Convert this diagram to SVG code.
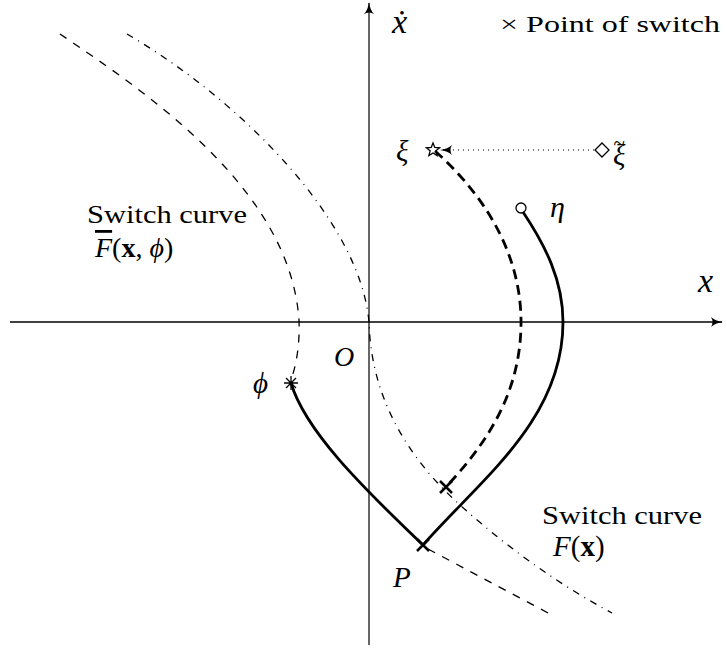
<svg xmlns="http://www.w3.org/2000/svg" width="727" height="648" viewBox="0 0 727 648">
<style>
.it{font-style:italic}
.thin{fill:none;stroke:#000;stroke-width:1.3}
.dash{stroke-dasharray:8 8}
.dashdot{stroke-dasharray:7 6 1 6}
.thick{fill:none;stroke:#000;stroke-width:2.8}
.tdash{stroke-dasharray:10 6}
.mk{fill:none;stroke:#000;stroke-width:1.3}
</style>
<defs>
<marker id="ah" viewBox="0 0 12 10" refX="11" refY="5" markerWidth="12" markerHeight="10" markerUnits="userSpaceOnUse" orient="auto">
<path d="M0,0 Q4,4 12,5 Q4,6 0,10 Q3,5 0,0Z" fill="#000"/>
</marker>
</defs>
<rect width="727" height="648" fill="#fff"/>
<g id="axes">
<line x1="10" y1="322" x2="722" y2="322" stroke="#000" stroke-width="1.3" marker-end="url(#ah)"/>
<line x1="369" y1="645" x2="369" y2="3" stroke="#000" stroke-width="1.2" marker-end="url(#ah)"/>
</g>
<g id="connectors">
<path class="thin dash" d="M60,34 C150,95 290,190 299,320 C300,345 296,368 290,382"/>
<path class="thin dash" d="M428,549 L550,614"/>
<path class="thin dashdot" d="M127,34 C240,100 360,220 369,322 C371,400 410,460 460,505 C510,550 560,585 612,613"/>
<path class="thick tdash" d="M435,151 C490,200 522,260 521,325 C520,400 480,450 446,487"/>
<path class="thick" d="M523,212 C545,245 563,280 563,322 C563,420 480,480 423,545"/>
<path class="thick" d="M291,383 C305,430 360,485 423,545"/>
<line x1="594" y1="150" x2="441" y2="150" stroke="#000" stroke-width="1" stroke-dasharray="1 4" marker-end="url(#ah)"/>
</g>
<g id="markers">
<path class="mk" d="M433,143 L434.8,147.5 L439.6,147.8 L435.9,150.8 L437.1,155.5 L433,152.9 L428.9,155.5 L430.1,150.8 L426.4,147.8 L431.2,147.5Z"/>
<path class="mk" d="M602,143 L609,150 L602,157 L595,150Z"/>
<circle class="mk" cx="521" cy="208" r="5"/>
<path d="M284,383 H298 M291,376 V390 M286,378 L296,388 M296,378 L286,388" stroke="#000" stroke-width="1.3"/>
<path d="M440,481 L452,493 M452,481 L440,493" stroke="#000" stroke-width="2.5"/>
<path d="M417,539 L429,551 M429,539 L417,551" stroke="#000" stroke-width="2.5"/>
</g>
<g id="labels" font-family="Liberation Serif">
<text class="it" x="392" y="33" font-size="34" font-family="Liberation Serif">ẋ</text>
<text x="500" y="32" font-size="24" font-family="Liberation Serif" textLength="220" lengthAdjust="spacingAndGlyphs">× Point of switch</text>
<text class="it" x="698" y="292" font-size="34" font-family="Liberation Serif">x</text>
<text class="it" x="396" y="161" font-size="29" font-family="Liberation Serif">ξ</text>
<text class="it" x="613" y="165" font-size="29" font-family="Liberation Serif">ξ<tspan dx="-12" dy="-15" font-style="normal" font-size="21">~</tspan></text>
<text class="it" x="550" y="217" font-size="30" font-family="Liberation Serif">η</text>
<text x="87" y="223" font-size="25" font-family="Liberation Serif" textLength="160" lengthAdjust="spacingAndGlyphs">Switch curve</text>
<text x="95" y="257" font-size="28" font-family="Liberation Serif"><tspan font-style="italic" text-decoration="overline">F</tspan>(<tspan font-weight="bold">x</tspan>, <tspan font-style="italic">ϕ</tspan>)</text>
<text class="it" x="334" y="366" font-size="28" font-family="Liberation Serif">O</text>
<text class="it" x="253" y="393" font-size="29" font-family="Liberation Serif">ϕ</text>
<text class="it" x="393" y="587" font-size="29" font-family="Liberation Serif">P</text>
<text x="542" y="524" font-size="25" font-family="Liberation Serif" textLength="160" lengthAdjust="spacingAndGlyphs">Switch curve</text>
<text x="553" y="556" font-size="29" font-family="Liberation Serif"><tspan font-style="italic">F</tspan>(<tspan font-weight="bold">x</tspan>)</text>
</g>
</svg>
